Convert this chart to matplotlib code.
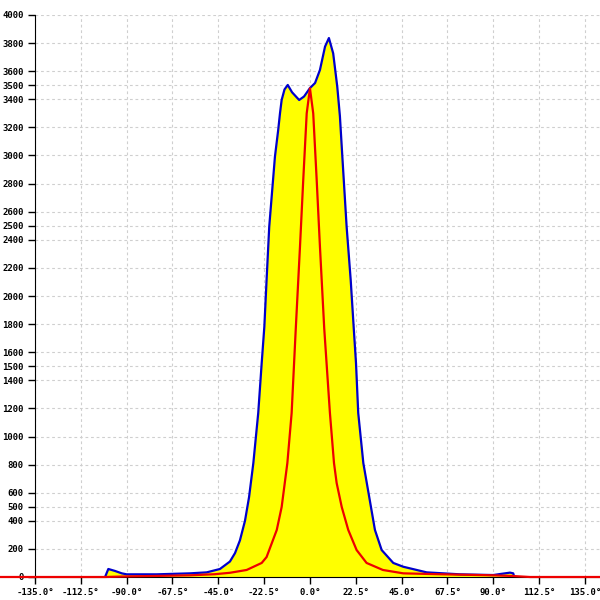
import matplotlib
matplotlib.use("Agg")
import matplotlib.pyplot as plt

# angle (deg) / count of the blue (filled) curve
blue_x = [-100.6, -99.0, -95.7, -92.4, -90.0, -75.3, -58.9, -50.7, -44.2, -39.3, -36.8,
          -34.4, -31.9, -29.9, -27.8, -25.4, -23.7, -22.4, -21.3, -20.0, -17.2, -15.6,
          -14.7, -13.9, -12.5, -10.9, -8.8, -5.3, -2.9, 0.0, 2.5, 4.9, 7.4, 9.3, 11.4,
          13.4, 14.7, 15.9, 18.0, 20.0, 21.5, 22.6, 23.7, 26.2, 29.1, 31.9, 35.2, 40.9,
          45.8, 57.3, 73.6, 90.0, 93.3, 98.2, 99.8, 100.3]
blue_y = [0, 57, 43, 26, 19, 19, 26, 33, 57, 110, 170,
          260, 400, 569, 811, 1167, 1523, 1781, 2114, 2493, 2991, 3181,
          3302, 3395, 3470, 3502, 3450, 3395, 3420, 3480, 3516, 3609, 3775, 3836, 3727,
          3490, 3280, 2991, 2493, 2114, 1770, 1523, 1167, 811, 569, 335, 192, 100,
          73, 33, 19, 14, 21, 31, 26, 0]

# angle (deg) / count of the red curve
red_x = [-152.2, -100.6, -90.8, -73.6, -58.9, -46.6, -39.3, -31.1, -23.7, -21.3, -16.3,
         -13.9, -11.1, -9.0, -7.0, -4.9, -3.3, -1.6, 0.0, 1.6, 3.3, 4.9, 7.0, 9.8,
         11.8, 13.1, 15.6, 18.8, 22.9, 27.8, 35.8, 45.8, 65.4, 89.8, 99.7, 108.0, 142.4]
red_y = [0, 0, 4, 8, 12, 20, 30, 50, 100, 142, 335,
         498, 811, 1167, 1758, 2351, 2826, 3300, 3478, 3300, 2826, 2351, 1770, 1167,
         811, 669, 498, 335, 192, 100, 50, 26, 19, 12, 7, 0, 0]

x_ticks = [-135.0, -112.5, -90.0, -67.5, -45.0, -22.5, 0.0, 22.5, 45.0, 67.5, 90.0, 112.5, 135.0]
y_ticks = [0, 200, 400, 500, 600, 800, 1000, 1200, 1400, 1500, 1600, 1800, 2000, 2200,
           2400, 2500, 2600, 2800, 3000, 3200, 3400, 3500, 3600, 3800, 4000]

plt.rcParams['font.family'] = ['DejaVu Sans Mono']

fig = plt.figure(figsize=(6, 6), dpi=100, facecolor='white')
ax = fig.add_axes([35 / 600, 1 - 577 / 600, 565 / 600, 562 / 600])
ax.set_facecolor('white')

# gefuellte Flaeche + Umriss, rote Kurve darueber
ax.fill_between(blue_x, blue_y, 0, color='#ffff00', lw=0, zorder=2)
ax.plot(blue_x, blue_y, color='#0000cc', lw=1.6, zorder=3)
ax.plot(red_x, red_y, color='#ee0000', lw=1.6, zorder=4, clip_on=False)

ax.set_xlim(-135, 142.4)
ax.set_ylim(0, 4000)
ax.set_xticks(x_ticks)
ax.set_xticklabels([f"{v:.1f}°" for v in x_ticks])
ax.set_yticks(y_ticks)
ax.set_yticklabels([str(v) for v in y_ticks])
ax.tick_params(axis='both', labelsize=6.5, length=5, width=1, color='black', pad=3)
for lab in ax.get_xticklabels() + ax.get_yticklabels():
    lab.set_fontweight('bold')

ax.grid(True, color='#cfcfcf', linestyle=(0, (2.5, 2.5)), lw=0.8, zorder=0)
for s in ['top', 'right']:
    ax.spines[s].set_visible(False)
ax.spines['left'].set_color('black')
ax.spines['bottom'].set_color('black')

fig.savefig('out.png', dpi=100, facecolor='white')
